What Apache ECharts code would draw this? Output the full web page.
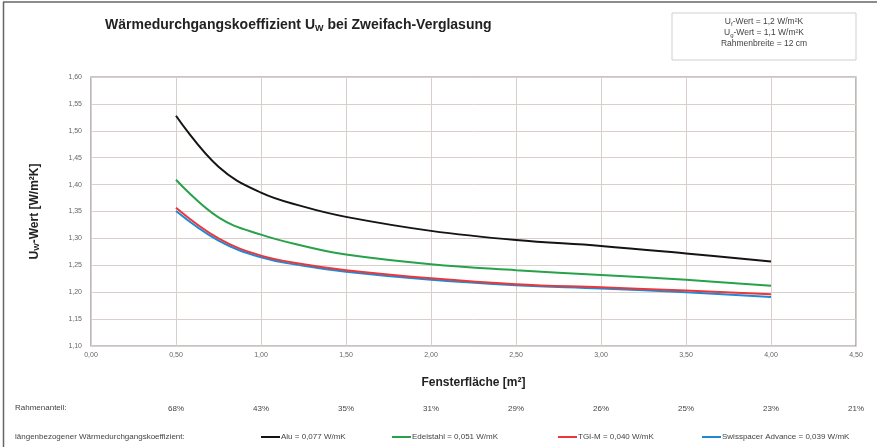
<!DOCTYPE html>
<html>
<head>
<meta charset="utf-8">
<script src="https://cdn.jsdelivr.net/npm/echarts@6/dist/echarts.min.js"></script>
<style>
html,body{margin:0;padding:0;background:#fff;}
#c{width:877px;height:447px;}
</style>
</head>
<body>
<div id="c"></div>
<script>
// ---- data ----
const flaeche = [0.5, 0.75, 1.0, 1.25, 1.5, 2.0, 2.5, 3.0, 3.5, 4.0];
const alu =        [1.528, 1.433, 1.385, 1.359, 1.340, 1.314, 1.297, 1.286, 1.272, 1.257];
const edelstahl =  [1.409, 1.339, 1.307, 1.286, 1.270, 1.252, 1.241, 1.232, 1.223, 1.212];
const tgim =       [1.357, 1.300, 1.268, 1.252, 1.241, 1.226, 1.215, 1.209, 1.203, 1.196];
const swisspacer = [1.351, 1.296, 1.265, 1.249, 1.238, 1.223, 1.213, 1.207, 1.200, 1.191];
const seriesNames = ['Alu = 0,077 W/mK', 'Edelstahl = 0,051 W/mK', 'TGI-M = 0,040 W/mK', 'Swisspacer Advance = 0,039 W/mK'];
const seriesColors = ['#141414', '#27a24a', '#e8383c', '#1e8ad6'];
const rahmenanteil = ['', '68%', '43%', '35%', '31%', '29%', '26%', '25%', '23%', '21%'];
const infoLines = [['U', 'f', '-Wert = 1,2 W/m²K'], ['U', 'g', '-Wert = 1,1 W/m²K'], ['Rahmenbreite = 12 cm', '', '']];

const FONT = '"Liberation Sans", Arial, sans-serif';
const legendLeft = [256, 387, 553, 697];

function pairs(ys){ return flaeche.map((x,i)=>[x, ys[i]]); }
const allSeries = [alu, edelstahl, tgim, swisspacer].map((d,i)=>({
  name: seriesNames[i],
  type: 'line',
  data: pairs(d),
  smooth: 0.4,
  symbol: 'none',
  color: seriesColors[i],
  lineStyle: {width: 2, color: seriesColors[i]},
  xAxisIndex: 0, yAxisIndex: 0,
  z: 3 + (i === 2 ? 2 : i === 3 ? 1 : 0)
}));

const legends = seriesNames.map((n, i) => ({
  data: [n], left: legendLeft[i], top: 428,
  icon: 'rect', itemWidth: 19, itemHeight: 2,
  textStyle: {fontFamily: FONT, fontSize: 8, color: '#444', padding: [0,0,0,-4]}
}));

const chart = echarts.init(document.getElementById('c'), null, {renderer: 'canvas'});
chart.setOption({
  animation: false,
  backgroundColor: '#fff',
  title: {
    text: '{a|Wärmedurchgangskoeffizient U}{s|W}{a| bei Zweifach-Verglasung}',
    left: 100, top: 12,
    textStyle: {
      rich: {
        a: {fontFamily: FONT, fontWeight: 'bold', fontSize: 14, color: '#222'},
        s: {fontFamily: FONT, fontWeight: 'bold', fontSize: 9, color: '#222', verticalAlign: 'bottom', padding: [7,0,0,0]}
      }
    }
  },
  grid: {left: 91, right: 21, top: 77, bottom: 101, show: true, borderColor: '#8c8c8c', borderWidth: 1.2, containLabel: false},
  xAxis: [{
    type: 'value', min: 0, max: 4.5, interval: 0.5,
    name: 'Fensterfläche [m²]', nameLocation: 'middle', nameGap: 31,
    nameTextStyle: {fontFamily: FONT, fontWeight: 'bold', fontSize: 12, color: '#222'},
    axisLine: {show: false}, axisTick: {show: false},
    axisLabel: {fontFamily: FONT, fontSize: 7, color: '#666', margin: 6, formatter: v => v.toFixed(2).replace('.', ',')},
    splitLine: {show: true, lineStyle: {color: '#d9cfcd', width: 1}}
  }, {
    type: 'value', min: 0, max: 4.5, interval: 0.5, position: 'bottom', offset: 57,
    axisLine: {show: false}, axisTick: {show: false}, splitLine: {show: false},
    axisLabel: {fontFamily: FONT, fontSize: 8, color: '#444', margin: 2, formatter: v => rahmenanteil[Math.round(v / 0.5)] || ''}
  }],
  yAxis: {
    type: 'value', min: 1.10, max: 1.60, interval: 0.05,
    name: '{a|U}{s|W}{a|-Wert [W/m²K]}', nameLocation: 'middle', nameGap: 50, nameRotate: 90,
    nameTextStyle: {
      rich: {
        a: {fontFamily: FONT, fontWeight: 'bold', fontSize: 12, color: '#222'},
        s: {fontFamily: FONT, fontWeight: 'bold', fontSize: 8, color: '#222', verticalAlign: 'bottom', padding: [5,0,0,0]}
      }
    },
    axisLine: {show: false}, axisTick: {show: false},
    axisLabel: {fontFamily: FONT, fontSize: 7, color: '#666', margin: 9, formatter: v => v.toFixed(2).replace('.', ',')},
    splitLine: {show: true, lineStyle: {color: '#d9cfcd', width: 1}}
  },
  legend: legends,
  graphic: [
    {type: 'line', shape: {x1: 3, y1: 2, x2: 877, y2: 2}, style: {stroke: '#666', lineWidth: 1.5}, silent: true},
    {type: 'line', shape: {x1: 3.5, y1: 2, x2: 3.5, y2: 447}, style: {stroke: '#666', lineWidth: 1.5}, silent: true},
    {type: 'rect', shape: {x: 672, y: 13, width: 184, height: 47}, style: {fill: '#fff', stroke: '#cfcfcf', lineWidth: 1}, silent: true},
    ...infoLines.map((l, i) => ({
      type: 'text', x: 764, y: 22 + i * 11,
      style: {
        text: l[1] ? '{a|' + l[0] + '}{s|' + l[1] + '}{a|' + l[2] + '}' : '{a|' + l[0] + '}',
        align: 'center', verticalAlign: 'middle',
        rich: {
          a: {fontFamily: FONT, fontSize: 8.5, fill: '#444', lineHeight: 10},
          s: {fontFamily: FONT, fontSize: 6, fill: '#444', lineHeight: 10, verticalAlign: 'bottom', padding: [2,0,0,0]}
        }
      }, silent: true
    })),
    {type: 'text', x: 15, y: 408, style: {text: 'Rahmenanteil:', fontFamily: FONT, fontSize: 8, fill: '#444', verticalAlign: 'middle'}, silent: true},
    {type: 'text', x: 15, y: 437, style: {text: 'längenbezogener Wärmedurchgangskoeffizient:', fontFamily: FONT, fontSize: 8, fill: '#444', verticalAlign: 'middle'}, silent: true}
  ],
  series: allSeries
});
</script>
</body>
</html>
